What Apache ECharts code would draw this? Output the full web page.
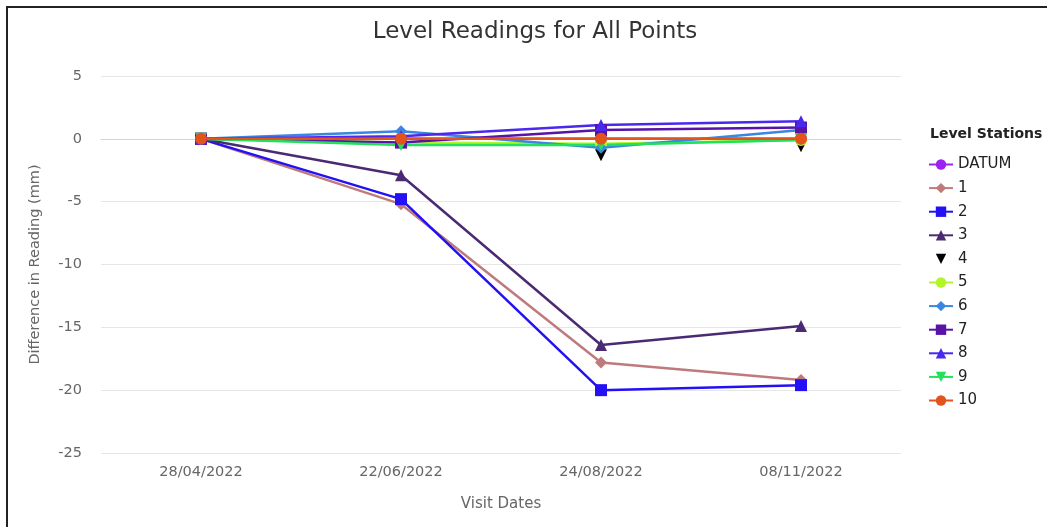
<!DOCTYPE html>
<html>
<head>
<meta charset="utf-8">
<script src="https://cdn.jsdelivr.net/npm/echarts@6/dist/echarts.min.js"></script>
<style>
  html, body { margin: 0; padding: 0; background: #fff; overflow: hidden; }
  #frame { position: absolute; left: 6px; top: 6px; width: 1200px; height: 700px; border: 2px solid #222; box-sizing: border-box; }
  #chart { position: absolute; left: 0; top: 0; width: 1047px; height: 527px; }
</style>
</head>
<body>
<div id="frame"></div>
<div id="chart"></div>
<script>
// 数据：访问日期和各测点读数差 (mm)
const visitDates = ['28/04/2022', '22/06/2022', '24/08/2022', '08/11/2022'];
const stationNames = ['DATUM', '1', '2', '3', '4', '5', '6', '7', '8', '9', '10'];

const datum = [0, 0, 0, 0];
const st1 = [0, -5.2, -17.8, -19.2];
const st2 = [0, -4.8, -20.0, -19.6];
const st3 = [0, -2.9, -16.4, -14.9];
const st4 = [0, -0.3, -1.3, -0.6];
const st5 = [0, -0.3, -0.4, -0.1];
const st6 = [0, 0.6, -0.7, 0.7];
const st7 = [0, -0.3, 0.7, 0.9];
const st8 = [0, 0.2, 1.1, 1.4];
const st9 = [0, -0.5, -0.5, -0.1];
const st10 = [0, 0, 0, 0];

const seriesValues = [datum, st1, st2, st3, st4, st5, st6, st7, st8, st9, st10];

const downTri = 'path://M0,0 L10,0 L5,9 Z';
const looks = [
    { color: '#9b22f0', symbol: 'circle' },
    { color: '#bf7b7b', symbol: 'diamond' },
    { color: '#2410f5', symbol: 'rect' },
    { color: '#4a2a72', symbol: 'triangle' },
    { color: '#000000', symbol: downTri, noLine: true },
    { color: '#b2f52a', symbol: 'circle' },
    { color: '#3a86e0', symbol: 'diamond' },
    { color: '#5714a6', symbol: 'rect' },
    { color: '#4a28ee', symbol: 'triangle' },
    { color: '#22e05a', symbol: downTri },
    { color: '#e2541c', symbol: 'circle' }
];

const font = '"DejaVu Sans", "Noto Sans", sans-serif';

function drawChart() {
    const myChart = echarts.init(document.getElementById('chart'));

    const series = stationNames.map((name, i) => ({
        name: name,
        type: 'line',
        data: seriesValues[i],
        symbol: looks[i].symbol,
        symbolSize: 12,
        showAllSymbol: true,
        color: looks[i].color,
        itemStyle: { color: looks[i].color },
        lineStyle: { width: looks[i].noLine ? 0 : 2.5, color: looks[i].color },
        emphasis: { disabled: true },
        animation: false
    }));

    const option = {
        animation: false,
        textStyle: { fontFamily: font },
        title: [{
            text: 'Level Readings for All Points',
            left: 530,
            top: 16,
            textAlign: 'center',
            textStyle: { fontSize: 23, fontWeight: 'normal', color: '#333', fontFamily: font }
        }, {
            text: 'Level Stations',
            left: 925,
            top: 122,
            textStyle: { fontSize: 14, fontWeight: 'bold', color: '#222', fontFamily: font }
        }],
        legend: {
            orient: 'vertical',
            left: 923,
            top: 152,
            itemGap: 8.6,
            itemWidth: 24,
            itemHeight: 13,
            data: stationNames,
            textStyle: { fontSize: 15, fontWeight: 'normal', color: '#222', fontFamily: font }
        },
        grid: {
            left: 101,
            right: 146,
            top: 76,
            bottom: 74,
            containLabel: false
        },
        xAxis: {
            type: 'category',
            data: visitDates,
            name: 'Visit Dates',
            nameLocation: 'middle',
            nameGap: 44,
            nameTextStyle: { color: '#666', fontSize: 15, fontFamily: font },
            axisLine: { lineStyle: { color: '#ccd6eb', width: 1 } },
            axisTick: { show: false },
            axisLabel: { color: '#666', fontSize: 14.5, margin: 12, fontFamily: font },
            splitLine: { show: false }
        },
        yAxis: {
            type: 'value',
            min: -25,
            max: 5,
            interval: 5,
            name: 'Difference in Reading (mm)',
            nameLocation: 'middle',
            nameGap: 58,
            nameTextStyle: { color: '#666', fontSize: 14.5, fontFamily: font },
            axisLine: { show: false },
            axisTick: { show: false },
            axisLabel: { color: '#666', fontSize: 14.5, margin: 19, fontFamily: font },
            splitLine: { lineStyle: { color: '#e6e6e6', width: 1 } }
        },
        series: series
    };

    myChart.setOption(option);
}

window.onload = function() {
    drawChart();
};
</script>
</body>
</html>
